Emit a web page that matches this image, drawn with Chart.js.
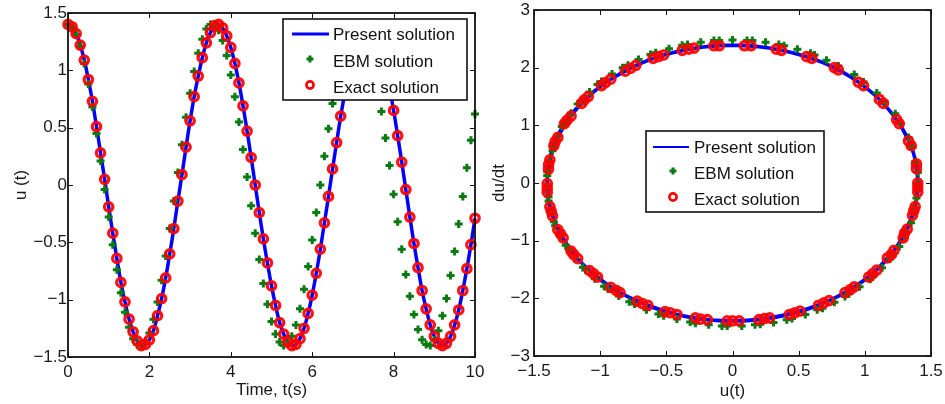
<!DOCTYPE html>
<html lang="en">
<head>
    <meta charset="UTF-8">
    <title>u(t) and phase plane</title>
    <script src="https://cdn.jsdelivr.net/npm/chart.js"></script>
    <style>
        body {
            margin: 0;
            background: #fff;
            width: 945px;
            height: 404px;
            position: relative;
            overflow: hidden;
        }
        .panel {
            position: absolute;
            top: 0;
            height: 404px;
        }
        #leftPanel { left: 0; width: 490px; z-index: 2; }
        #rightPanel { left: 480px; width: 465px; z-index: 1; }
    </style>
</head>
<body>
    <div class="panel" id="leftPanel"><canvas id="timeChart"></canvas></div>
    <div class="panel" id="rightPanel"><canvas id="phaseChart"></canvas></div>
    <script>
        const seriesNames = ["Present solution", "EBM solution", "Exact solution"];

        const time = [
            0, 0.1, 0.2, 0.3, 0.4, 0.5, 0.6, 0.7, 0.8, 0.9,
            1, 1.1, 1.2, 1.3, 1.4, 1.5, 1.6, 1.7, 1.8, 1.9,
            2, 2.1, 2.2, 2.3, 2.4, 2.5, 2.6, 2.7, 2.8, 2.9,
            3, 3.1, 3.2, 3.3, 3.4, 3.5, 3.6, 3.7, 3.8, 3.9,
            4, 4.1, 4.2, 4.3, 4.4, 4.5, 4.6, 4.7, 4.8, 4.9,
            5, 5.1, 5.2, 5.3, 5.4, 5.5, 5.6, 5.7, 5.8, 5.9,
            6, 6.1, 6.2, 6.3, 6.4, 6.5, 6.6, 6.7, 6.8, 6.9,
            7, 7.1, 7.2, 7.3, 7.4, 7.5, 7.6, 7.7, 7.8, 7.9,
            8, 8.1, 8.2, 8.3, 8.4, 8.5, 8.6, 8.7, 8.8, 8.9,
            9, 9.1, 9.2, 9.3, 9.4, 9.5, 9.6, 9.7, 9.8, 9.9,
            10
        ];

        // exact solution u(t) (present solution runs through the same points)
        const exactU = [
            1.40, 1.38, 1.32, 1.22, 1.09, 0.92, 0.73, 0.51, 0.28, 0.05,
            -0.19, -0.42, -0.64, -0.85, -1.02, -1.17, -1.28, -1.36, -1.40, -1.39,
            -1.35, -1.27, -1.14, -0.99, -0.81, -0.60, -0.38, -0.14, 0.09, 0.33,
            0.56, 0.77, 0.95, 1.11, 1.24, 1.33, 1.39, 1.40, 1.37, 1.30,
            1.20, 1.06, 0.89, 0.69, 0.47, 0.24, 0.00, -0.24, -0.47, -0.68,
            -0.88, -1.05, -1.20, -1.30, -1.37, -1.40, -1.39, -1.34, -1.25, -1.12,
            -0.96, -0.77, -0.56, -0.33, -0.10, 0.14, 0.37, 0.60, 0.80, 0.99,
            1.14, 1.26, 1.35, 1.39, 1.40, 1.36, 1.29, 1.17, 1.03, 0.85,
            0.65, 0.43, 0.20, -0.04, -0.28, -0.51, -0.72, -0.92, -1.08, -1.22,
            -1.32, -1.38, -1.40, -1.38, -1.32, -1.22, -1.09, -0.92, -0.73, -0.52,
            -0.29
        ];
        const presentU = exactU.slice();

        const ebmU = [
            1.40, 1.38, 1.31, 1.21, 1.06, 0.88, 0.68, 0.45, 0.21, -0.04,
            -0.28, -0.52, -0.74, -0.94, -1.11, -1.24, -1.34, -1.39, -1.40, -1.36,
            -1.29, -1.17, -1.02, -0.83, -0.62, -0.38, -0.14, 0.11, 0.35, 0.59,
            0.80, 0.99, 1.15, 1.27, 1.36, 1.40, 1.39, 1.35, 1.26, 1.13,
            0.96, 0.77, 0.55, 0.31, 0.07, -0.18, -0.42, -0.65, -0.86, -1.04,
            -1.19, -1.30, -1.37, -1.40, -1.38, -1.32, -1.22, -1.08, -0.91, -0.71,
            -0.48, -0.24, 0.00, 0.25, 0.49, 0.71, 0.92, 1.09, 1.23, 1.33,
            1.38, 1.40, 1.37, 1.30, 1.19, 1.04, 0.85, 0.64, 0.41, 0.17,
            -0.08, -0.32, -0.56, -0.78, -0.97, -1.13, -1.26, -1.35, -1.39, -1.40,
            -1.35, -1.27, -1.14, -0.99, -0.79, -0.58, -0.34, -0.10, 0.15, 0.39,
            0.62
        ];

        // du/dt for the phase plane
        const exactDu = [
            0.00, -0.41, -0.80, -1.17, -1.51, -1.80, -2.04, -2.22, -2.34, -2.39,
            -2.37, -2.28, -2.12, -1.90, -1.63, -1.31, -0.95, -0.57, -0.16, 0.24,
            0.65, 1.03, 1.38, 1.69, 1.94, 2.16, 2.30, 2.38, 2.38, 2.32,
            2.19, 2.00, 1.75, 1.45, 1.10, 0.73, 0.33, -0.08, -0.48, -0.87,
            -1.24, -1.57, -1.85, -2.08, -2.25, -2.35, -2.39, -2.36, -2.25, -2.09,
            -1.86, -1.57, -1.24, -0.88, -0.49, -0.09, 0.32, 0.72, 1.09, 1.44,
            1.74, 1.99, 2.19, 2.32, 2.38, 2.38, 2.30, 2.16, 1.96, 1.69,
            1.38, 1.03, 0.65, 0.25, -0.16, -0.56, -0.95, -1.30, -1.63, -1.90,
            -2.12, -2.28, -2.37, -2.39, -2.34, -2.23, -2.05, -1.81, -1.52, -1.18,
            -0.81, -0.41, -0.01, 0.40, 0.79, 1.16, 1.50, 1.80, 2.04, 2.22,
            2.34
        ];
        const presentDu = exactDu.slice();

        const ebmDu = [
            0.00, -0.44, -0.86, -1.26, -1.62, -1.92, -2.17, -2.35, -2.45, -2.48,
            -2.43, -2.30, -2.10, -1.84, -1.51, -1.14, -0.74, -0.31, 0.13, 0.56,
            0.98, 1.37, 1.71, 2.00, 2.23, 2.39, 2.47, 2.47, 2.40, 2.25,
            2.03, 1.75, 1.41, 1.03, 0.62, 0.18, -0.26, -0.69, -1.10, -1.47,
            -1.80, -2.07, -2.28, -2.42, -2.48, -2.46, -2.36, -2.20, -1.96, -1.66,
            -1.30, -0.91, -0.49, -0.06, 0.38, 0.81, 1.21, 1.58, 1.89, 2.14,
            2.33, 2.44, 2.48, 2.44, 2.32, 2.13, 1.88, 1.56, 1.20, 0.79,
            0.37, -0.07, -0.51, -0.93, -1.32, -1.67, -1.97, -2.20, -2.37, -2.46,
            -2.48, -2.41, -2.27, -2.06, -1.79, -1.46, -1.08, -0.67, -0.24, 0.20,
            0.63, 1.04, 1.43, 1.76, 2.04, 2.26, 2.40, 2.47, 2.47, 2.38,
            2.22
        ];

        const timeTicks = [0, 2, 4, 6, 8, 10];
        const uTicks = [-1.5, -1, -0.5, 0, 0.5, 1, 1.5];
        const phaseUTicks = [-1.5, -1, -0.5, 0, 0.5, 1, 1.5];
        const phaseDuTicks = [-3, -2, -1, 0, 1, 2, 3];

        const BLUE = "#0000ff";
        const GREEN = "#0b7a12";
        const RED = "#ff0000";
        const FONT = '"Liberation Sans", Arial, Helvetica, sans-serif';

        Chart.defaults.font.family = FONT;
        Chart.defaults.font.size = 17;
        Chart.defaults.color = "#1a1a1a";

        const pts = (xs, ys) => xs.map((x, i) => ({ x: x, y: ys[i] }));
        const minus = v => String(v).replace("-", "\u2212");

        // MATLAB-ish box, inward ticks and an opaque legend on top of the data
        const matlabFrame = {
            id: "matlabFrame",
            afterDatasetsDraw(chart, args, opts) {
                const { ctx, chartArea: a, scales } = chart;
                ctx.save();
                ctx.strokeStyle = "#111";
                ctx.lineWidth = 1;
                ctx.beginPath();
                scales.x.ticks.forEach(t => {
                    const px = Math.round(scales.x.getPixelForValue(t.value)) + 0.5;
                    ctx.moveTo(px, a.bottom); ctx.lineTo(px, a.bottom - 5);
                    ctx.moveTo(px, a.top); ctx.lineTo(px, a.top + 5);
                });
                scales.y.ticks.forEach(t => {
                    const py = Math.round(scales.y.getPixelForValue(t.value)) + 0.5;
                    ctx.moveTo(a.left, py); ctx.lineTo(a.left + 5, py);
                    ctx.moveTo(a.right, py); ctx.lineTo(a.right - 5, py);
                });
                ctx.stroke();
                ctx.lineWidth = 1.8;
                ctx.strokeRect(a.left, a.top, a.right - a.left, a.bottom - a.top);

                // legend
                const [bx, by, bw, bh] = opts.box;
                ctx.fillStyle = "#fff";
                ctx.fillRect(bx, by, bw, bh);
                ctx.lineWidth = 1.6;
                ctx.strokeStyle = "#111";
                ctx.strokeRect(bx, by, bw, bh);

                const [r0, r1, r2] = opts.rows;
                ctx.strokeStyle = BLUE;
                ctx.lineWidth = opts.lineWidth;
                ctx.beginPath();
                ctx.moveTo(opts.line[0], r0);
                ctx.lineTo(opts.line[1], r0);
                ctx.stroke();

                ctx.strokeStyle = GREEN;
                ctx.lineWidth = 3;
                ctx.beginPath();
                ctx.moveTo(opts.markX - 3.5, r1 - 2); ctx.lineTo(opts.markX + 3.5, r1 - 2);
                ctx.moveTo(opts.markX, r1 - 5.5); ctx.lineTo(opts.markX, r1 + 1.5);
                ctx.stroke();

                ctx.strokeStyle = RED;
                ctx.lineWidth = 2.6;
                ctx.beginPath();
                ctx.arc(opts.markX, r2 - 2, 3.6, 0, Math.PI * 2);
                ctx.stroke();

                ctx.fillStyle = "#111";
                ctx.font = "17px " + FONT;
                ctx.textBaseline = "middle";
                ctx.textAlign = "left";
                seriesNames.forEach((name, i) => {
                    ctx.fillText(name, opts.textX, opts.rows[i] + 1);
                });
                ctx.restore();
            }
        };

        function makeAxis(min, max, ticks, title, size, titlePad, horizontal, labelPad) {
            return {
                type: "linear",
                min: min,
                max: max,
                afterBuildTicks: s => { s.ticks = ticks.map(v => ({ value: v })); },
                afterFit: s => {
                    if (horizontal) { s.height = size; } else { s.width = size; }
                    s.paddingLeft = 0; s.paddingRight = 0;
                    s.paddingTop = 0; s.paddingBottom = 0;
                },
                grid: { display: false, drawTicks: false },
                border: { display: false },
                ticks: {
                    autoSkip: false,
                    maxRotation: 0,
                    padding: labelPad,
                    color: "#1a1a1a",
                    font: { size: 17 },
                    callback: v => minus(v)
                },
                title: {
                    display: true,
                    text: title,
                    color: "#1a1a1a",
                    font: { size: 17 },
                    padding: titlePad
                }
            };
        }

        function markerSets(xsBlue, ysBlue, xsGreen, ysGreen, xsRed, ysRed) {
            return [
                {
                    label: seriesNames[0],
                    data: pts(xsBlue, ysBlue),
                    showLine: true,
                    borderColor: BLUE,
                    borderWidth: 3.5,
                    pointRadius: 0,
                    tension: 0.4,
                    order: 3,
                    clip: false
                },
                {
                    label: seriesNames[1],
                    data: pts(xsGreen, ysGreen),
                    showLine: false,
                    pointStyle: "cross",
                    pointRadius: 4,
                    borderColor: GREEN,
                    pointBorderWidth: 3,
                    order: 2,
                    clip: false
                },
                {
                    label: seriesNames[2],
                    data: pts(xsRed, ysRed),
                    showLine: false,
                    pointStyle: "circle",
                    pointRadius: 4.2,
                    borderColor: "rgba(255, 0, 0, 0.92)",
                    backgroundColor: "rgba(0, 0, 0, 0)",
                    pointBorderWidth: 3.3,
                    order: 1,
                    clip: false
                }
            ];
        }

        new Chart(document.getElementById("timeChart"), {
            type: "scatter",
            data: { datasets: markerSets(time, presentU, time, ebmU, time, exactU) },
            options: {
                responsive: true,
                maintainAspectRatio: false,
                animation: false,
                events: [],
                layout: { padding: { top: 13, right: 15, left: 0, bottom: 0 } },
                scales: {
                    x: makeAxis(0, 10, timeTicks, "Time, t(s)", 47, { top: 0, bottom: 3 }, true, 5),
                    y: makeAxis(-1.5, 1.5, uTicks, "u (t)", 68, { top: 11, bottom: 0 }, false, 1)
                },
                plugins: {
                    legend: { display: false },
                    tooltip: { enabled: false },
                    matlabFrame: {
                        box: [283, 19, 184, 81],
                        rows: [34, 61, 87],
                        line: [292, 329],
                        lineWidth: 3,
                        markX: 310,
                        textX: 333
                    }
                }
            },
            plugins: [matlabFrame]
        });

        new Chart(document.getElementById("phaseChart"), {
            type: "scatter",
            data: { datasets: markerSets(presentU, presentDu, ebmU, ebmDu, exactU, exactDu) },
            options: {
                responsive: true,
                maintainAspectRatio: false,
                animation: false,
                events: [],
                layout: { padding: { top: 10, right: 14, left: 0, bottom: 0 } },
                scales: {
                    x: makeAxis(-1.5, 1.5, phaseUTicks, "u(t)", 48, { top: 0, bottom: 2 }, true, 5),
                    y: makeAxis(-3, 3, phaseDuTicks, "du/dt", 54, { top: 9, bottom: 0 }, false, 4)
                },
                plugins: {
                    legend: { display: false },
                    tooltip: { enabled: false },
                    matlabFrame: {
                        box: [166, 131, 178, 81],
                        rows: [147, 173, 199],
                        line: [173, 209],
                        lineWidth: 2,
                        markX: 193,
                        textX: 214
                    }
                }
            },
            plugins: [matlabFrame]
        });
    </script>
</body>
</html>
